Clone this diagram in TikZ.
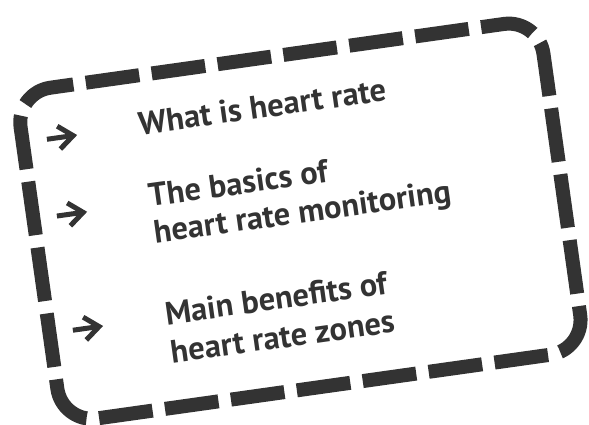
\documentclass[tikz,border=0pt]{standalone}
\usepackage{fontspec}
\setmainfont{PT Sans}
\definecolor{ink}{HTML}{333333}
\tikzset{
  frame/.style={draw=ink, line width=14pt, line cap=butt, line join=round,
    dash pattern=on 54.0pt off 12.56pt, dash phase=60.28pt},
  itemtext/.style={anchor=base west, inner sep=0pt, text=ink, transform shape,
    font=\fontsize{32.5}{38}\selectfont\bfseries},
  arrowglyph/.style={draw=ink, line width=5pt, line cap=butt, line join=miter}
}
\begin{document}
\begin{tikzpicture}[x=1pt,y=1pt]
\useasboundingbox (0,0) rectangle (589,-425);
\begin{scope}[shift={(300.4,-221.2)}, rotate=8]
  \draw[frame] (0,167) -- (229,167)
    arc[start angle=90, end angle=0, radius=35] -- (264,-132)
    arc[start angle=0, end angle=-90, radius=35] -- (-229,-167)
    arc[start angle=-90, end angle=-180, radius=35] -- (-264,132)
    arc[start angle=180, end angle=90, radius=35] -- cycle;
  \node[itemtext] (t1) at (-147,107.6) {What is heart rate};
  \node[itemtext] (t2a) at (-147,35.0) {The basics of};
  \node[itemtext] (t2b) at (-147,-1.8) {heart rate monitoring};
  \node[itemtext] (t3a) at (-147,-84.2) {Main benefits of};
  \node[itemtext] (t3b) at (-147,-123) {heart rate zones};
  \coordinate (a1) at (-225.6,116.4);
  \coordinate (a2) at (-226.4,39.0);
  \coordinate (a3) at (-226.5,-76.3);
  \foreach \a in {a1,a2,a3}{
    \draw[arrowglyph] (\a) +(-14,0) -- +(12,0);
    \draw[arrowglyph] (\a) +(-2,11.5) -- +(12.5,0) -- +(-2,-11.5);
  }
\end{scope}
\end{tikzpicture}
\end{document}
